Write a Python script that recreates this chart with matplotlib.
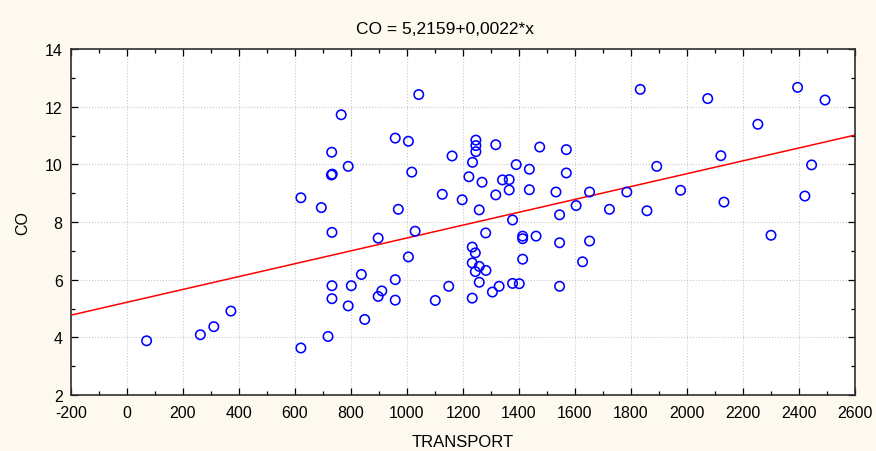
import matplotlib
matplotlib.use("Agg")
import matplotlib.pyplot as plt
from matplotlib.ticker import MultipleLocator
import numpy as np

plt.rcParams['font.family'] = ['Liberation Sans', 'DejaVu Sans']
plt.rcParams['axes.unicode_minus'] = False

transport = [70, 262, 310, 371, 621, 621, 694, 718, 731, 730, 733, 732, 765, 790,
             732, 732, 801, 790, 837, 849, 897, 897, 910, 958, 969, 958, 958,
             1005, 1017, 1029, 1005, 1042, 1101, 1126, 1149, 1161, 1197, 1221,
             1234, 1246, 1246, 1246, 1258, 1268, 1281, 1233, 1244, 1233, 1258,
             1244, 1282, 1258, 1233, 1305, 1329, 1317, 1317, 1341, 1365, 1365,
             1377, 1377, 1390, 1401, 1413, 1413, 1413, 1437, 1437, 1461, 1474,
             1532, 1545, 1545, 1545, 1569, 1569, 1604, 1627, 1652, 1652, 1723,
             1785, 1833, 1857, 1892, 1977, 2074, 2121, 2132, 2253, 2300, 2395,
             2421, 2445, 2493]
co = [3.88, 4.09, 4.37, 4.91, 3.63, 8.84, 8.50, 4.03, 10.42, 9.63, 9.66, 7.64, 11.72, 9.93,
      5.79, 5.34, 5.79, 5.09, 6.18, 4.62, 7.44, 5.42, 5.61, 10.91, 8.44, 6.00, 5.29,
      10.80, 9.73, 7.68, 6.79, 12.42, 5.28, 8.96, 5.77, 10.29, 8.77, 9.57,
      10.07, 10.84, 10.65, 10.44, 8.42, 9.38, 7.62, 7.13, 6.93, 6.58, 6.46,
      6.28, 6.32, 5.91, 5.36, 5.57, 5.77, 10.68, 8.94, 9.46, 9.47, 9.11,
      8.07, 5.87, 9.99, 5.86, 7.51, 7.42, 6.71, 9.83, 9.12, 7.51, 10.60,
      9.04, 8.25, 7.28, 5.77, 10.51, 9.70, 8.57, 6.62, 9.04, 7.34, 8.44,
      9.04, 12.60, 8.39, 9.93, 9.10, 12.28, 10.30, 8.69, 11.39, 7.54, 12.67,
      8.90, 9.98, 12.23]

intercept = 5.2159
slope = 0.00223
title = "CO = 5,2159+0,0022*x"

W, H = 876, 452
bg = '#FDF9EE'
fig = plt.figure(figsize=(W/100, H/100), dpi=100, facecolor=bg)
ax = fig.add_axes([71/W, 1-396/H, (855-71)/W, (396-50)/H])
ax.set_facecolor('white')

ax.scatter(transport, co, s=46, facecolors='none', edgecolors='#0000FF',
           linewidths=1.15, zorder=3)
xl = np.array([-200, 2600])
ax.plot(xl, intercept + slope*xl, color='#FF0000', lw=1.1, zorder=2)

ax.set_xlim(-200, 2600)
ax.set_ylim(2, 14)
ax.xaxis.set_major_locator(MultipleLocator(200))
ax.xaxis.set_minor_locator(MultipleLocator(100))
ax.yaxis.set_major_locator(MultipleLocator(2))
ax.yaxis.set_minor_locator(MultipleLocator(1))
ax.tick_params(which='both', direction='in', top=True, right=True,
               colors='black', width=0.9)
ax.tick_params(axis='x', which='major', labelsize=11.5, pad=7)
ax.tick_params(axis='y', which='major', labelsize=11.5, pad=6)
ax.tick_params(which='major', length=5)
ax.tick_params(which='minor', length=3)
ax.grid(True, which='major', color='#C8C8C8', linestyle=':', linewidth=0.8)
ax.set_axisbelow(True)
for sp in ax.spines.values():
    sp.set_linewidth(1.2)
    sp.set_color('#303030')

fig.text(445/W, 1-29.5/H, title, fontsize=12.5, ha='center', va='center')
fig.text(463/W, 1-443/H, 'TRANSPORT', fontsize=12, ha='center', va='center')
fig.text(23/W, 1-223/H, 'CO', fontsize=11.5, ha='center', va='center', rotation=90)

fig.savefig('out.png', dpi=100, facecolor=bg)
